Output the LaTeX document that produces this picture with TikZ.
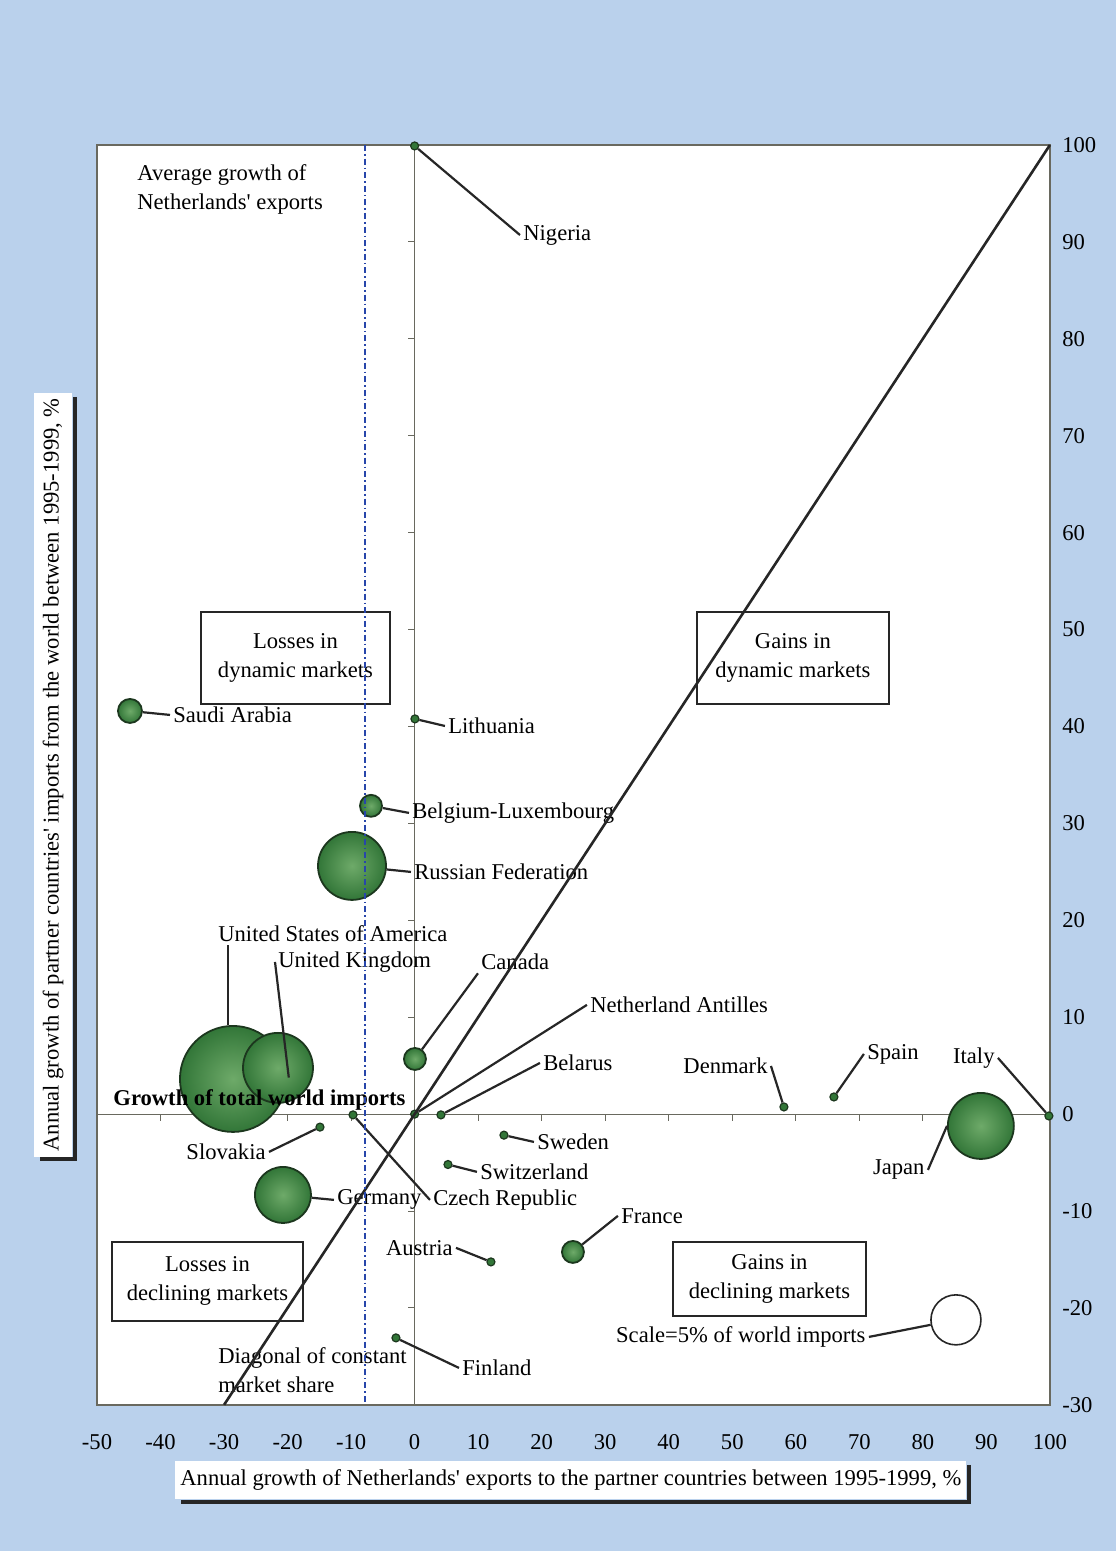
\documentclass[tikz,border=0pt]{standalone}
\usepackage{fontspec}
\setmainfont{Liberation Serif}
\usetikzlibrary{shapes, calc}
\definecolor{bgblue}{RGB}{186, 209, 236}
\definecolor{framegray}{RGB}{105, 105, 95}
\definecolor{bubblegreen}{RGB}{50, 118, 56}
\definecolor{bubblelight}{RGB}{110, 170, 105}
\definecolor{bubbleedge}{RGB}{28, 55, 30}
\definecolor{dashblue}{RGB}{40, 70, 170}

\begin{document}
\begin{tikzpicture}[x=3.1767pt, y=4.8462pt, font=\fontsize{11.3}{14.5}\selectfont,
  bubble/.style={circle, draw=bubbleedge, line width=0.9pt, inner color=bubblelight, outer color=bubblegreen, inner sep=0pt},
  dot/.style={circle, draw=bubbleedge, line width=0.6pt, fill=bubblegreen, inner sep=0pt, minimum size=4pt},
  country/.style={inner sep=1.5pt},
  leader/.style={line width=1.1pt, black!85},
  quadbox/.style={draw=black!85, line width=0.8pt, align=center, inner sep=0pt},
  axtitle/.style={fill=white, inner sep=2.5pt, minimum height=19pt},
  shadowline/.style={line width=2pt, black!85},
  axisline/.style={framegray, line width=0.5pt}]
  % Background and plot area
  \path[use as bounding box, fill=bgblue] (-65.27,-45.08) rectangle (110.39,114.96);
  \fill[white] (-50,-30) rectangle (100,100);

  % Axes through the origin
  \draw[axisline] (-50,0) -- (100,0);
  \draw[axisline] (0,-30) -- (0,100);
  \foreach \x in {-40,-30,...,90}
    \draw[axisline] (\x,0) -- (\x,-0.7);
  \foreach \y in {-20,-10,...,90}
    \draw[axisline] (0,\y) -- (-1.1,\y);
  \draw[framegray, line width=1pt] (-50,-30) rectangle (100,100);

  % Tick labels
  \foreach \x [count=\i] in {-50,-40,...,100}
    \node (xt\i) at (\x,-33.8) {\x};
  \foreach \y [count=\i] in {-30,-20,...,100}
    \node[anchor=west, inner sep=0pt] (yt\i) at (101.9,\y) {\y};

  % Quadrant boxes
  \node[quadbox, minimum width=94.5pt, minimum height=46pt] (lossdyn) at (-18.76,47.07) {Losses in\\dynamic markets};
  \node[quadbox, minimum width=96pt, minimum height=46pt] (gaindyn) at (59.55,47.07) {Gains in\\dynamic markets};
  \node[quadbox, minimum width=95.5pt, minimum height=39.5pt] (lossdec) at (-32.61,-17.26) {Losses in\\declining markets};
  \node[quadbox, minimum width=96.5pt, minimum height=37pt] (gaindec) at (55.85,-17.0) {Gains in\\declining markets};

  % Bubbles
  \node[bubble, minimum size=12pt] (saudi) at (-44.81,41.60) {};
  \node[bubble, minimum size=11pt] (belg) at (-6.87,31.81) {};
  \node[bubble, minimum size=34pt] (russ) at (-9.86,25.61) {};
  \node[bubble, minimum size=53pt] (usa) at (-28.60,3.63) {};
  \node[bubble, minimum size=35pt] (uk) at (-21.51,4.77) {};
  \node[bubble, minimum size=11pt] (can) at (0.05,5.69) {};
  \node[bubble, minimum size=28pt] (ger) at (-20.73,-8.34) {};
  \node[bubble, minimum size=11pt] (france) at (24.92,-14.22) {};
  \node[bubble, minimum size=33pt] (japan) at (89.13,-1.22) {};
  \node[circle, draw=black!85, fill=white, line width=0.8pt, minimum size=25pt] (scale) at (85.21,-21.23) {};

  % Small markets
  \node[dot] (nig) at (0,99.9) {};
  \node[dot] (lith) at (0.05,40.78) {};
  \node[dot] (slov) at (-14.90,-1.34) {};
  \node[dot] (czech) at (-9.70,-0.08) {};
  \node[dot] (antil) at (0,0) {};
  \node[dot] (belar) at (4.14,-0.08) {};
  \node[dot] (swed) at (14.06,-2.17) {};
  \node[dot] (switz) at (5.25,-5.20) {};
  \node[dot] (aus) at (12.01,-15.25) {};
  \node[dot] (fin) at (-2.94,-23.09) {};
  \node[dot] (den) at (58.13,0.74) {};
  \node[dot] (spain) at (66.0,1.77) {};
  \node[dot] (italy) at (99.84,-0.19) {};

  % Labels
  \node[country, anchor=west, align=left] (avgL) at (-44.18,95.41) {Average growth of\\Netherlands\textquotesingle{} exports};
  \node[country, anchor=west] (nigL) at (16.58,90.71) {Nigeria};
  \node[country, anchor=west] (saudiL) at (-38.51,41.19) {Saudi Arabia};
  \node[country, anchor=west] (lithL) at (4.77,40.05) {Lithuania};
  \node[country, anchor=west] (belgL) at (-0.89,31.08) {Belgium-Luxembourg};
  \node[country, anchor=west] (russL) at (-0.58,24.99) {Russian Federation};
  \node[country, anchor=west] (usaL) at (-31.43,18.59) {United States of America};
  \node[country, anchor=west] (ukL) at (-21.98,15.70) {United Kingdom};
  \node[country, anchor=west] (canL) at (9.97,15.70) {Canada};
  \node[country, anchor=west] (antilL) at (27.12,11.27) {Netherland Antilles};
  \node[country, anchor=west] (belarL) at (19.73,5.28) {Belarus};
  \node[country, anchor=east] (denL) at (56.09,4.97) {Denmark};
  \node[country, anchor=west] (spainL) at (70.72,6.21) {Spain};
  \node[country, anchor=east] (italyL) at (91.82,5.80) {Italy};
  \node[country, anchor=west] (worldL) at (-47.95,1.47) {\bfseries Growth of total world imports};
  \node[country, anchor=east] (slovL) at (-22.93,-3.90) {Slovakia};
  \node[country, anchor=west] (swedL) at (18.78,-2.87) {Sweden};
  \node[country, anchor=west] (switzL) at (9.81,-5.96) {Switzerland};
  \node[country, anchor=east] (japanL) at (80.80,-5.76) {Japan};
  \node[country, anchor=west] (gerL) at (-12.70,-8.85) {Germany};
  \node[country, anchor=west] (czechL) at (2.41,-8.85) {Czech Republic};
  \node[country, anchor=west] (franceL) at (32.0,-10.50) {France};
  \node[country, anchor=east] (ausL) at (6.51,-13.80) {Austria};
  \node[country, anchor=east] (scaleL) at (71.51,-22.99) {Scale=5\% of world imports};
  \node[country, anchor=west] (finL) at (6.98,-26.19) {Finland};
  \node[country, anchor=west, align=left] (diagL) at (-31.43,-26.39) {Diagonal of constant\\market share};

  % Leader lines
  \draw[leader] (nig) -- (nigL.west);
  \draw[leader] (saudi) -- (saudiL.west);
  \draw[leader] (lith) -- (lithL.west);
  \draw[leader] (belg) -- (belgL.west);
  \draw[leader] (russ) -- (russL.west);
  \draw[leader] (usa.95) -- (usa.95 |- usaL.south);
  \draw[leader] (ukL.west) -- ($(uk.center)+(1.7,-1)$);
  \draw[leader] (can) -- (canL.south west);
  \draw[leader] (antil) -- (antilL.west);
  \draw[leader] (belar) -- (belarL.west);
  \draw[leader] (den) -- (denL.east);
  \draw[leader] (spain) -- (spainL.west);
  \draw[leader] (italy) -- (italyL.east);
  \draw[leader] (slov) -- (slovL.east);
  \draw[leader] (czech) -- (czechL.west);
  \draw[leader] (ger) -- (gerL.west);
  \draw[leader] (swed) -- (swedL.west);
  \draw[leader] (switz) -- (switzL.west);
  \draw[leader] (japan.west) -- (japanL.east);
  \draw[leader] (france) -- (franceL.west);
  \draw[leader] (aus) -- (ausL.east);
  \draw[leader] (fin) -- (finL.west);
  \draw[leader] (scale) -- (scaleL.east);

  % Diagonal of constant market share
  \coordinate (diagLow) at (-30,-30);
  \coordinate (diagHigh) at (100,100);
  \draw[line width=1.3pt, black!85] (diagLow) -- (diagHigh);

  % Average growth of exports
  \coordinate (avgTop) at (-7.8,100);
  \coordinate (avgBot) at (-7.8,-30);
  \draw[dashblue, line width=0.8pt, dash pattern=on 3pt off 1.5pt on 0.8pt off 1.5pt] (avgTop) -- (avgBot);

  % Axis titles
  \node[axtitle] (xtitle) at (24.6,-37.79) {Annual growth of Netherlands\textquotesingle{} exports to the partner countries between 1995-1999, \%};
  \draw[shadowline] ([xshift=1pt,yshift=-2pt]xtitle.north east) -- ([xshift=1pt,yshift=-1pt]xtitle.south east) -- ([xshift=3pt,yshift=-1pt]xtitle.south west);
  \node[axtitle, rotate=90] (ytitle) at (-56.9,35.0) {Annual growth of partner countries\textquotesingle{} imports from the world between 1995-1999, \%};
  \draw[shadowline] ([xshift=1pt,yshift=-2pt]ytitle.south east) -- ([xshift=1pt,yshift=-1pt]ytitle.south west) -- ([xshift=3pt,yshift=-1pt]ytitle.north west);
\end{tikzpicture}
\end{document}
